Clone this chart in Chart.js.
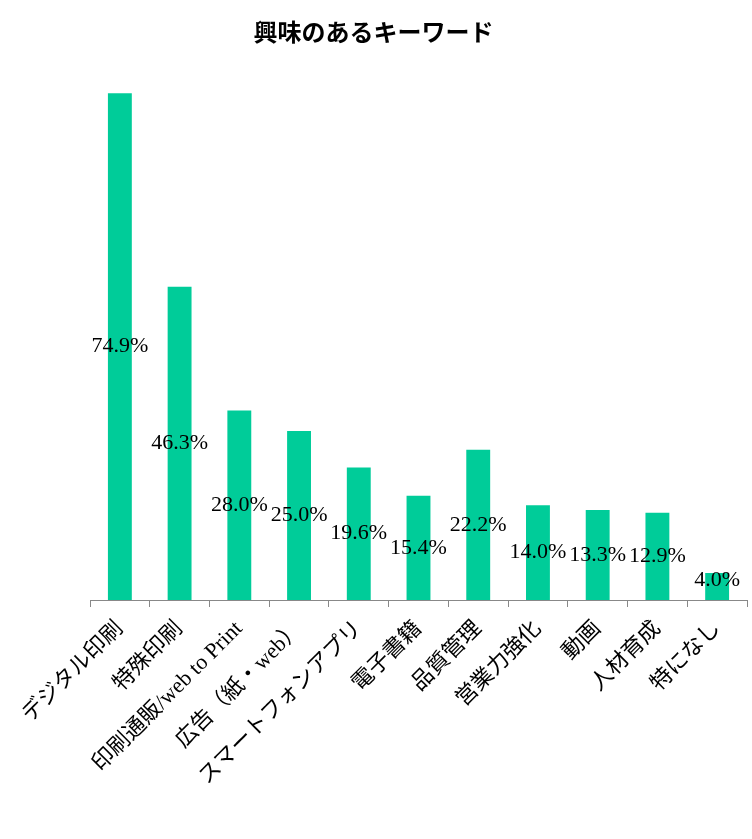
<!DOCTYPE html>
<html><head><meta charset="utf-8">
<script src="https://cdn.jsdelivr.net/npm/chart.js@4/dist/chart.umd.min.js"></script>
<style>html,body{margin:0;padding:0;background:#fff;}#wrap{width:752px;height:839px;}</style>
</head><body><div id="wrap"><canvas id="c" width="752" height="839"></canvas></div>
<script>
const chartTitle = '興味のあるキーワード';
const categories = ['デジタル印刷','特殊印刷','印刷通販/web to Print','広告（紙・web）','スマートフォンアプリ','電子書籍','品質管理','営業力強化','動画','人材育成','特になし'];
const values = [74.9, 46.3, 28.0, 25.0, 19.6, 15.4, 22.2, 14.0, 13.3, 12.9, 4.0];
const yMin = 0, yMax = 80;

const valueLabels = {
  id: 'valueLabels',
  afterDatasetsDraw(chart) {
    const ctx = chart.ctx;
    const meta = chart.getDatasetMeta(0);
    ctx.save();
    ctx.font = "22px 'Liberation Serif', 'Times New Roman', serif";
    ctx.fillStyle = '#000';
    ctx.textAlign = 'center';
    ctx.textBaseline = 'middle';
    meta.data.forEach((bar, i) => {
      const p = bar.getProps(['x','y','base'], true);
      const y = Math.min((p.y + p.base) / 2, p.base - 20);
      ctx.fillText(values[i].toFixed(1) + '%', p.x, y);
    });
    ctx.restore();
  }
};

new Chart(document.getElementById('c'), {
  type: 'bar',
  data: {
    labels: categories,
    datasets: [{ data: values, backgroundColor: '#00CC99', borderWidth: 0,
      barPercentage: 0.8, categoryPercentage: 0.5 }]
  },
  options: {
    responsive: false,
    animation: false,
    devicePixelRatio: 1,
    layout: { padding: { left: 0, right: 5, top: 0, bottom: 0 } },
    plugins: {
      legend: { display: false },
      tooltip: { enabled: false },
      title: { display: true, text: chartTitle, color: '#000',
        font: { family: "'Noto Sans CJK JP', sans-serif", size: 24, weight: 'bold' },
        padding: { top: 17, bottom: 13 } }
    },
    scales: {
      y: { display: true, min: yMin, max: yMax,
        grid: { display: false }, border: { display: false }, ticks: { display: false },
        afterFit(scale) { scale.width = 90; } },
      x: {
        border: { display: true, color: '#888888', width: 1 },
        grid: { display: true, drawOnChartArea: false, drawTicks: true, tickLength: 7, color: '#888888', offset: true },
        ticks: { minRotation: 45, maxRotation: 45, color: '#000', padding: 9, autoSkip: false,
          font: { family: "'Liberation Serif', 'Noto Sans CJK JP', sans-serif", size: 22 } },
        afterFit(scale) { scale.height = 239; scale.paddingLeft = 0; scale.paddingRight = 0; }
      }
    }
  },
  plugins: [valueLabels]
});
</script></body></html>
